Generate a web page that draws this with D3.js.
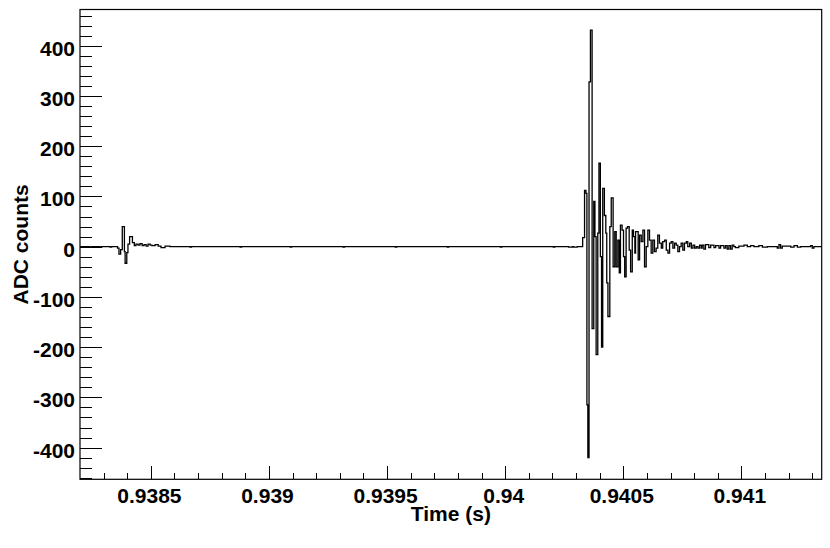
<!DOCTYPE html>
<html><head><meta charset="utf-8">
<script src="https://cdn.jsdelivr.net/npm/d3@7"></script>
<style>body{margin:0;background:#fff} svg{display:block;background:#fff}</style>
</head><body>
<svg id="c" width="830" height="548"></svg>
<script>
// ---- data (time offsets in microseconds after T0, ADC counts; step waveform) ----
const T0 = 0.9382;
const timeUs = [0,42,50,85,92,127,134,159,165,172,179,188,191,198,203,210,222,230,237,246,254,263,271,280,288,297,305,318,331,343,360,381,
466,472,678,684,890,896,1114,1120,1335,1341,1555,1561,1780,1786,2004,2010,2069,2084,2090,2105,
2128,2136,2142,2146,2150,2155,2161,2168,2175,2180,2185,2192,2197,2203,2208,2213,2220,2226,2230,2235,2243,2249,2257,2264,2270,2277,2283,2288,2295,2301,2306,2312,2318,2325,2331,2338,2343,2349,2352,2363,2369,2376,2383,2390,2397,2404,2411,2418,2425,2432,2439,2446,2453,2461,2467,2475,2482,2489,2496,2503,2510,2517,2524,2531,2538,2545,2552,2559,2567,2573,2581,2588,2595,2602,2609,2616,2623,
2630,2634,2641,2648,2662,2670,2684,2691,2705,2712,2726,2733,2740,2747,2754,2761,2768,2775,2789,2811,2825,2839,2853,2874,2889,2910,2952,2959,2966,2973,3009,3023,3037,3051,3093,3100,3107,3140];
const adc = [0,-1,0,-1,0,-1,0,-3,-15,-6,40,-10,-33,-12,5,20,8,2,5,3,6,2,4,1,5,3,2,4,1,-2,1,0,
-1,0,-1,0,-1,0,-1,0,-1,0,-1,0,-1,0,-1,0,-1,0,-1,0,
18,112,106,-315,-420,328,431,-163,90,20,-215,27,166,-20,-200,116,62,27,-72,-139,40,97,-40,30,-40,13,-52,43,33,-20,-60,37,40,-7,-50,33,20,-13,30,-26,23,10,33,-40,0,33,13,-13,13,-10,-3,23,7,-3,10,13,-7,-13,7,10,-3,7,3,-10,0,7,-7,7,10,0,7,-3,3,-3,0,-3,3,
-3,3,-5,4,-2,3,-2,2,-3,2,-3,2,-5,2,-5,3,0,-2,1,3,0,2,0,2,-1,0,-3,4,-3,1,-1,2,-1,0,2,-3,0,0];

const xTickValues = [0.9385, 0.939, 0.9395, 0.94, 0.9405, 0.941];
const xTickLabels = ["0.9385", "0.939", "0.9395", "0.94", "0.9405", "0.941"];
const yTickValues = [-400, -300, -200, -100, 0, 100, 200, 300, 400];
const yTickLabels = ["-400", "-300", "-200", "-100", "0", "100", "200", "300", "400"];
const xDomain = [0.9382, 0.94134];
const yDomain = [-463, 472];
const xTitle = "Time (s)";
const yTitle = "ADC counts";

// ---- layout ----
const L = 80, R = 821.7, T = 9.5, B = 479.3;
const FONT = "'Liberation Sans', Arial, Helvetica, sans-serif";
const svg = d3.select("#c");
svg.append("rect").attr("width", 830).attr("height", 548).attr("fill", "#fff");

const x = d3.scaleLinear().domain(xDomain).range([L, R]);
const y = d3.scaleLinear().domain(yDomain).range([B, T]);

const pts = timeUs.map((u, i) => ({t: T0 + u * 1e-6, v: adc[i]}));

// waveform
const line = d3.line().x(d => x(d.t)).y(d => y(d.v)).curve(d3.curveStepAfter);
svg.append("path").datum(pts)
  .attr("fill", "none").attr("stroke", "#000").attr("stroke-width", 1.3)
  .attr("d", line);

// minor ticks
const yMinor = d3.range(-460, 461, 20).filter(v => v % 100 !== 0);
const xMinor = d3.range(0.9383, 0.94134, 0.0001).filter(v => !xTickValues.some(m => Math.abs(m - v) < 1e-7));

const gyMinor = svg.append("g").attr("transform", `translate(${L},0)`)
  .call(d3.axisLeft(y).tickValues(yMinor).tickFormat("").tickSizeInner(-11.5).tickSizeOuter(0));
const gxMinor = svg.append("g").attr("transform", `translate(0,${B})`)
  .call(d3.axisBottom(x).tickValues(xMinor).tickFormat("").tickSizeInner(-6.5).tickSizeOuter(0));

// major ticks + labels
const gy = svg.append("g").attr("transform", `translate(${L},0)`)
  .call(d3.axisLeft(y).tickValues(yTickValues).tickFormat((d, i) => yTickLabels[i])
    .tickSizeInner(-22).tickSizeOuter(0).tickPadding(5));
const gx = svg.append("g").attr("transform", `translate(0,${B})`)
  .call(d3.axisBottom(x).tickValues(xTickValues).tickFormat((d, i) => xTickLabels[i])
    .tickSizeInner(-13.5).tickSizeOuter(0).tickPadding(8.5));

[gyMinor, gxMinor, gy, gx].forEach(g => {
  g.select(".domain").remove();
  g.selectAll("line").attr("stroke", "#000").attr("stroke-width", 1).attr("shape-rendering", "crispEdges");
});
[gy, gx].forEach(g => g.selectAll("text")
  .attr("font-family", FONT).attr("font-size", 21).attr("font-weight", "bold").attr("fill", "#000"));
gy.selectAll("text").attr("dy", "0.45em");
gx.selectAll("text").attr("dx", -2);

// frame
svg.append("rect").attr("x", L).attr("y", T).attr("width", R - L).attr("height", B - T)
  .attr("fill", "none").attr("stroke", "#000").attr("stroke-width", 1.2);

// titles
svg.append("text").attr("x", (L + R) / 2).attr("y", 521)
  .attr("text-anchor", "middle").attr("font-family", FONT).attr("font-size", 21)
  .attr("font-weight", "bold").text(xTitle);
svg.append("text").attr("transform", `translate(28,${(T + B) / 2}) rotate(-90)`)
  .attr("text-anchor", "middle").attr("font-family", FONT).attr("font-size", 21)
  .attr("font-weight", "bold").text(yTitle);
</script>
</body></html>
